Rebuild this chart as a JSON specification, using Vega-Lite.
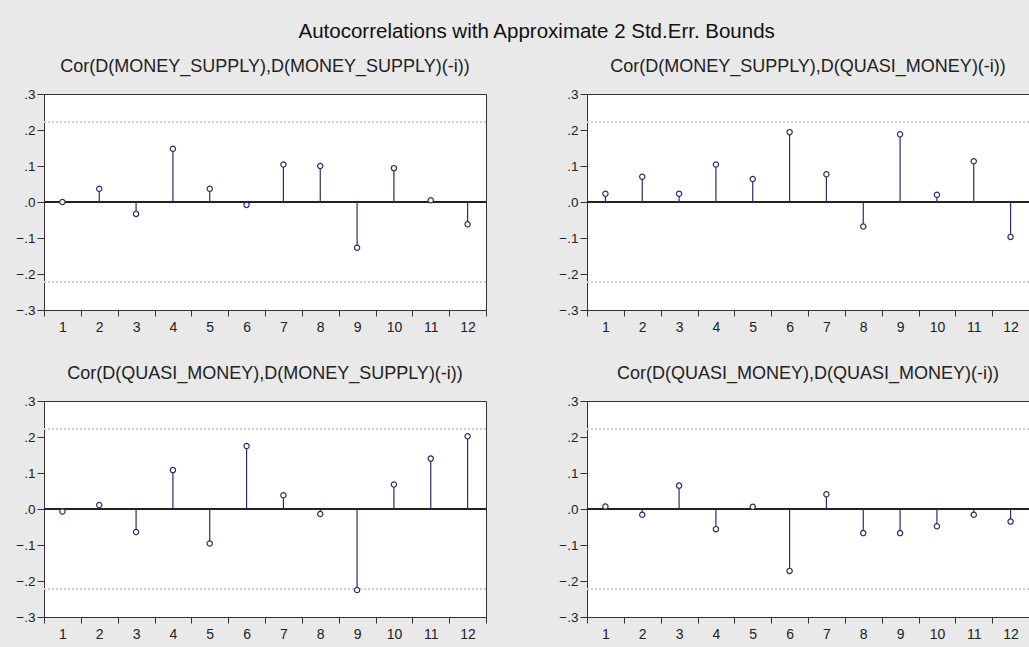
{
  "$schema": "https://vega.github.io/schema/vega-lite/v6.json",
  "background": "#e9e9e9",
  "padding": {"left": 15, "top": 22, "right": 0, "bottom": 8},
  "config": {"font": "Liberation Sans"},
  "title": {"text": "Autocorrelations with Approximate 2 Std.Err. Bounds", "fontSize": 20.5, "font": "Liberation Sans", "fontWeight": "normal", "anchor": "middle", "color": "#111111", "offset": 15, "dx": 14},
  "data": {"values": [
    {"panel": "Cor(D(MONEY_SUPPLY),D(MONEY_SUPPLY)(-i))", "lag": 1, "r": 0.0},
    {"panel": "Cor(D(MONEY_SUPPLY),D(MONEY_SUPPLY)(-i))", "lag": 2, "r": 0.037},
    {"panel": "Cor(D(MONEY_SUPPLY),D(MONEY_SUPPLY)(-i))", "lag": 3, "r": -0.033},
    {"panel": "Cor(D(MONEY_SUPPLY),D(MONEY_SUPPLY)(-i))", "lag": 4, "r": 0.148},
    {"panel": "Cor(D(MONEY_SUPPLY),D(MONEY_SUPPLY)(-i))", "lag": 5, "r": 0.037},
    {"panel": "Cor(D(MONEY_SUPPLY),D(MONEY_SUPPLY)(-i))", "lag": 6, "r": -0.008},
    {"panel": "Cor(D(MONEY_SUPPLY),D(MONEY_SUPPLY)(-i))", "lag": 7, "r": 0.104},
    {"panel": "Cor(D(MONEY_SUPPLY),D(MONEY_SUPPLY)(-i))", "lag": 8, "r": 0.1},
    {"panel": "Cor(D(MONEY_SUPPLY),D(MONEY_SUPPLY)(-i))", "lag": 9, "r": -0.127},
    {"panel": "Cor(D(MONEY_SUPPLY),D(MONEY_SUPPLY)(-i))", "lag": 10, "r": 0.094},
    {"panel": "Cor(D(MONEY_SUPPLY),D(MONEY_SUPPLY)(-i))", "lag": 11, "r": 0.005},
    {"panel": "Cor(D(MONEY_SUPPLY),D(MONEY_SUPPLY)(-i))", "lag": 12, "r": -0.062},
    {"panel": "Cor(D(MONEY_SUPPLY),D(QUASI_MONEY)(-i))", "lag": 1, "r": 0.023},
    {"panel": "Cor(D(MONEY_SUPPLY),D(QUASI_MONEY)(-i))", "lag": 2, "r": 0.07},
    {"panel": "Cor(D(MONEY_SUPPLY),D(QUASI_MONEY)(-i))", "lag": 3, "r": 0.023},
    {"panel": "Cor(D(MONEY_SUPPLY),D(QUASI_MONEY)(-i))", "lag": 4, "r": 0.104},
    {"panel": "Cor(D(MONEY_SUPPLY),D(QUASI_MONEY)(-i))", "lag": 5, "r": 0.064},
    {"panel": "Cor(D(MONEY_SUPPLY),D(QUASI_MONEY)(-i))", "lag": 6, "r": 0.194},
    {"panel": "Cor(D(MONEY_SUPPLY),D(QUASI_MONEY)(-i))", "lag": 7, "r": 0.077},
    {"panel": "Cor(D(MONEY_SUPPLY),D(QUASI_MONEY)(-i))", "lag": 8, "r": -0.068},
    {"panel": "Cor(D(MONEY_SUPPLY),D(QUASI_MONEY)(-i))", "lag": 9, "r": 0.188},
    {"panel": "Cor(D(MONEY_SUPPLY),D(QUASI_MONEY)(-i))", "lag": 10, "r": 0.02},
    {"panel": "Cor(D(MONEY_SUPPLY),D(QUASI_MONEY)(-i))", "lag": 11, "r": 0.113},
    {"panel": "Cor(D(MONEY_SUPPLY),D(QUASI_MONEY)(-i))", "lag": 12, "r": -0.097},
    {"panel": "Cor(D(QUASI_MONEY),D(MONEY_SUPPLY)(-i))", "lag": 1, "r": -0.007},
    {"panel": "Cor(D(QUASI_MONEY),D(MONEY_SUPPLY)(-i))", "lag": 2, "r": 0.011},
    {"panel": "Cor(D(QUASI_MONEY),D(MONEY_SUPPLY)(-i))", "lag": 3, "r": -0.064},
    {"panel": "Cor(D(QUASI_MONEY),D(MONEY_SUPPLY)(-i))", "lag": 4, "r": 0.108},
    {"panel": "Cor(D(QUASI_MONEY),D(MONEY_SUPPLY)(-i))", "lag": 5, "r": -0.096},
    {"panel": "Cor(D(QUASI_MONEY),D(MONEY_SUPPLY)(-i))", "lag": 6, "r": 0.175},
    {"panel": "Cor(D(QUASI_MONEY),D(MONEY_SUPPLY)(-i))", "lag": 7, "r": 0.038},
    {"panel": "Cor(D(QUASI_MONEY),D(MONEY_SUPPLY)(-i))", "lag": 8, "r": -0.014},
    {"panel": "Cor(D(QUASI_MONEY),D(MONEY_SUPPLY)(-i))", "lag": 9, "r": -0.225},
    {"panel": "Cor(D(QUASI_MONEY),D(MONEY_SUPPLY)(-i))", "lag": 10, "r": 0.068},
    {"panel": "Cor(D(QUASI_MONEY),D(MONEY_SUPPLY)(-i))", "lag": 11, "r": 0.14},
    {"panel": "Cor(D(QUASI_MONEY),D(MONEY_SUPPLY)(-i))", "lag": 12, "r": 0.202},
    {"panel": "Cor(D(QUASI_MONEY),D(QUASI_MONEY)(-i))", "lag": 1, "r": 0.007},
    {"panel": "Cor(D(QUASI_MONEY),D(QUASI_MONEY)(-i))", "lag": 2, "r": -0.016},
    {"panel": "Cor(D(QUASI_MONEY),D(QUASI_MONEY)(-i))", "lag": 3, "r": 0.065},
    {"panel": "Cor(D(QUASI_MONEY),D(QUASI_MONEY)(-i))", "lag": 4, "r": -0.056},
    {"panel": "Cor(D(QUASI_MONEY),D(QUASI_MONEY)(-i))", "lag": 5, "r": 0.006},
    {"panel": "Cor(D(QUASI_MONEY),D(QUASI_MONEY)(-i))", "lag": 6, "r": -0.172},
    {"panel": "Cor(D(QUASI_MONEY),D(QUASI_MONEY)(-i))", "lag": 7, "r": 0.041},
    {"panel": "Cor(D(QUASI_MONEY),D(QUASI_MONEY)(-i))", "lag": 8, "r": -0.067},
    {"panel": "Cor(D(QUASI_MONEY),D(QUASI_MONEY)(-i))", "lag": 9, "r": -0.067},
    {"panel": "Cor(D(QUASI_MONEY),D(QUASI_MONEY)(-i))", "lag": 10, "r": -0.048},
    {"panel": "Cor(D(QUASI_MONEY),D(QUASI_MONEY)(-i))", "lag": 11, "r": -0.016},
    {"panel": "Cor(D(QUASI_MONEY),D(QUASI_MONEY)(-i))", "lag": 12, "r": -0.035}
  ]},
  "facet": {
    "field": "panel", "type": "nominal",
    "sort": ["Cor(D(MONEY_SUPPLY),D(MONEY_SUPPLY)(-i))", "Cor(D(MONEY_SUPPLY),D(QUASI_MONEY)(-i))", "Cor(D(QUASI_MONEY),D(MONEY_SUPPLY)(-i))", "Cor(D(QUASI_MONEY),D(QUASI_MONEY)(-i))"],
    "header": {"title": null, "labelFontSize": 18, "labelFont": "Liberation Sans", "labelColor": "#222222", "labelPadding": 11}
  },
  "columns": 2,
  "spacing": {"column": 71, "row": 29},
  "resolve": {"axis": {"x": "independent", "y": "independent"}},
  "spec": {
    "width": 442,
    "height": 216,
    "view": {"fill": "white", "stroke": "#333333", "strokeWidth": 1},
    "encoding": {
      "x": {"field": "lag", "type": "ordinal", "scale": {"paddingInner": 0, "paddingOuter": 0},
        "axis": {"tickBand": "extent", "labelAngle": 0, "title": null, "domain": false, "tickColor": "#333333", "tickSize": 6, "labelFontSize": 14, "labelColor": "#222222", "labelPadding": 4}},
      "y": {"field": "r", "type": "quantitative", "scale": {"domain": [-0.3, 0.3], "nice": false, "zero": false},
        "axis": {"values": [-0.3, -0.2, -0.1, 0, 0.1, 0.2, 0.3], "labelExpr": "replace(format(datum.value, '.1f'), '0.', '.')", "grid": false, "title": null, "domain": false, "tickColor": "#333333", "tickSize": 7, "labelFontSize": 13.5, "labelColor": "#222222", "labelPadding": 2}}
    },
    "layer": [
      {"mark": {"type": "rule", "color": "#cfcfcf", "strokeDash": [2, 2], "strokeWidth": 1}, "encoding": {"x": null, "y": {"datum": 0.222}}},
      {"mark": {"type": "rule", "color": "#cfcfcf", "strokeDash": [2, 2], "strokeWidth": 1}, "encoding": {"x": null, "y": {"datum": -0.222}}},
      {"mark": {"type": "rule", "color": "#222222", "strokeWidth": 1}, "encoding": {"x": null, "y": {"datum": 0}}},
      {"mark": {"type": "rule", "color": "#2b2b6e", "strokeWidth": 1.2}, "encoding": {"y2": {"datum": 0}}},
      {"mark": {"type": "point", "shape": "circle", "filled": false, "fill": "white", "stroke": "#2b2b6e", "strokeWidth": 1.2, "size": 28, "opacity": 1}}
    ]
  }
}
